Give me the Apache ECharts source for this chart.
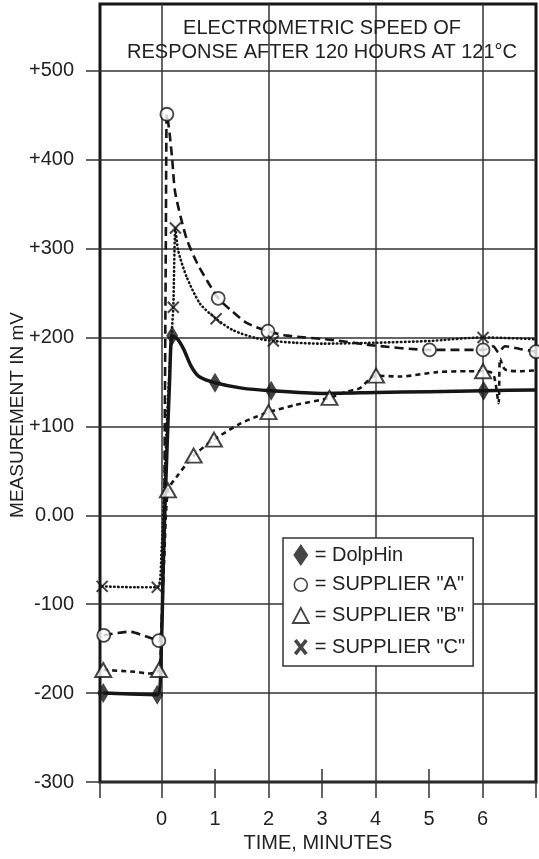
<!DOCTYPE html>
<html>
<head>
<meta charset="utf-8">
<script src="https://cdn.jsdelivr.net/npm/echarts@6/dist/echarts.min.js"></script>
<style>
  html, body { margin: 0; padding: 0; background: #fff; }
  #chart { width: 539px; height: 859px; }
</style>
</head>
<body>
<div id="chart"></div>
<script>
// ---- data (x: minutes, y: mV) ----
const seriesNames = ['DolpHin', 'SUPPLIER "A"', 'SUPPLIER "B"', 'SUPPLIER "C"'];
const titleLines = ['ELECTROMETRIC SPEED OF', 'RESPONSE AFTER 120 HOURS AT 121°C'];
const xTickLabels = [0, 1, 2, 3, 4, 5, 6];
const yTickValues = [-300, -200, -100, 0, 100, 200, 300, 400, 500];

const dolphinLine = [[-1.09,-200],[-0.08,-202],[0.0,-140],[0.03,-60],[0.065,10],[0.1,70],[0.15,150],[0.2,202],
  [0.3,198],[0.42,186],[0.55,168],[0.7,156],[1.0,149],[1.5,143],[2.05,140],[3,137],[4,138],[5,139],[6.02,140],[7,141]];
const dolphinMarks = [[-1.09,-200],[-0.08,-202],[0.2,202],[1.0,149],[2.05,140],[6.02,140]];

const supplierALine = [[-1.08,-135],[-0.6,-131],[-0.3,-136],[-0.05,-141],[0.04,-50],[0.06,100],[0.08,300],[0.09,420],[0.1,451],
  [0.15,430],[0.2,400],[0.25,365],[0.36,335],[0.48,309],[0.67,283],[0.85,264],[1.06,244],[1.29,231],[1.6,216],[1.99,207],
  [2.35,202],[3.22,197],[3.97,191],[5.01,186],[5.4,186],[6.01,186],[6.2,190],[6.3,183],[6.42,190],[6.7,187],[7,184]];
const supplierAMarks = [[-1.08,-135],[-0.05,-141],[0.1,451],[1.06,244],[1.99,207],[5.01,186],[6.01,186],[7,184]];

const supplierBLine = [[-1.09,-174],[-0.5,-176],[-0.25,-178],[-0.05,-174],[0.0,-120],[0.05,-50],[0.12,28],[0.28,43],
  [0.6,67],[0.98,85],[1.47,103],[1.78,111],[2.0,116],[2.5,124],[3.14,132],[3.46,139],[3.71,143],[3.87,152],[4.01,157],
  [4.46,156],[5.15,161],[5.72,162],[6.01,162],[6.2,159],[6.3,126],[6.33,176],[6.42,164],[6.7,162],[7,163]];
const supplierBMarks = [[-1.09,-174],[-0.05,-174],[0.12,28],[0.6,67],[0.98,85],[2.0,116],[3.14,132],[4.01,157],[6.01,162]];

const supplierCLine = [[-1.11,-80],[-0.5,-81],[-0.08,-81],[0.0,-40],[0.05,30],[0.12,130],[0.19,205],[0.22,234],[0.26,323],
  [0.31,298],[0.47,268],[0.72,238],[1.02,221],[1.34,208],[1.78,199],[2.09,196],[2.5,194],[3,193],[4,194],[5,196],[6.01,200],[7,198]];
const supplierCMarks = [[-1.11,-80],[-0.08,-81],[0.22,234],[0.26,323],[1.02,221],[2.09,196],[6.01,200]];

// ---- chart ----
const FONT = '"Liberation Sans", Arial, Helvetica, sans-serif';
const INK = '#161616';
const chart = echarts.init(document.getElementById('chart'), null, { renderer: 'canvas' });

const xCommon = { type: 'value', min: -1.15, max: 7, gridIndex: 0, position: 'bottom', axisLine: { show: false, onZero: false } };

const option = {
  animation: false,
  backgroundColor: '#fff',
  textStyle: { fontFamily: FONT },
  grid: { left: 100, right: 3, top: 4, bottom: 77, show: true, borderColor: INK, borderWidth: 3,
          backgroundColor: 'transparent', containLabel: false, outerBoundsMode: 'none' },
  graphic: [{
    type: 'text', x: 322, y: 40, z: 10,
    style: { text: titleLines.join('\n'), align: 'center', verticalAlign: 'middle', fontSize: 20, lineHeight: 24, fontFamily: FONT, fill: '#222' }
  }],
  legend: {
    orient: 'vertical', left: 283, top: 538, selectedMode: false,
    backgroundColor: '#fff', borderColor: '#333', borderWidth: 1.5,
    padding: [6, 8, 6, 7], itemGap: 7, itemWidth: 18, itemHeight: 22,
    formatter: '= {name}',
    textStyle: { fontSize: 20, color: '#222', fontFamily: FONT },
    data: [
      { name: seriesNames[0], icon: 'path://M0,0 M18,22 M9,0 L16.5,11 L9,22 L1.5,11 Z', itemStyle: { color: INK, borderWidth: 0 } },
      { name: seriesNames[1], icon: 'path://M0,0 M18,22 M15.5,11 A6.5,6.5 0 1 1 2.5,11 A6.5,6.5 0 1 1 15.5,11 Z', itemStyle: { color: '#fff', borderColor: INK, borderWidth: 1.6 } },
      { name: seriesNames[2], icon: 'path://M0,0 M18,22 M9,3.5 L17,18.5 L1,18.5 Z', itemStyle: { color: '#fff', borderColor: INK, borderWidth: 1.8 } },
      { name: seriesNames[3], icon: 'path://M0,0 M18,22 M3.5,4 L14.5,18 M14.5,4 L3.5,18', itemStyle: { color: INK, borderColor: INK, borderWidth: 3.6 } }
    ]
  },
  xAxis: [
    Object.assign({}, xCommon, {
      name: 'TIME, MINUTES', nameLocation: 'middle', nameGap: 50,
      nameTextStyle: { fontSize: 20, color: '#222', fontFamily: FONT },
      axisTick: { show: true, inside: false, length: 16, customValues: [-1.15, 0, 1, 2, 3, 4, 5, 6, 7], lineStyle: { color: '#333', width: 1.5 } },
      axisLabel: { show: true, margin: 27, fontSize: 20, color: '#222', fontFamily: FONT, customValues: xTickLabels },
      splitLine: { show: false }
    }),
    Object.assign({}, xCommon, {
      axisTick: { show: false, customValues: [0, 2, 4, 6] },
      axisLabel: { show: false },
      splitLine: { show: true, lineStyle: { color: '#333', width: 1.5 } }
    }),
    Object.assign({}, xCommon, {
      axisTick: { show: true, inside: true, length: 13, customValues: [1, 3, 5], lineStyle: { color: '#333', width: 1.5 } },
      axisLabel: { show: false },
      splitLine: { show: false }
    })
  ],
  yAxis: {
    type: 'value', min: -300, max: 575, interval: 100,
    name: 'MEASUREMENT IN mV', nameLocation: 'middle', nameGap: 73, nameRotate: 90, nameMoveOverlap: false,
    nameTextStyle: { fontSize: 19, color: '#222', fontFamily: FONT, padding: [0, 44, 0, 0] },
    axisLine: { show: false, onZero: false },
    axisTick: { show: true, inside: false, length: 14, customValues: yTickValues, lineStyle: { color: '#333', width: 1.5 } },
    axisLabel: {
      margin: 26, fontSize: 20, color: '#222', fontFamily: FONT, customValues: yTickValues,
      formatter: v => v > 0 ? '+' + v : (v === 0 ? '0.00' : String(v))
    },
    splitLine: { show: true, lineStyle: { color: '#333', width: 1.5 } }
  },
  series: [
    { name: seriesNames[0], type: 'scatter', xAxisIndex: 0, z: 6, symbol: 'diamond', symbolSize: [12, 20],
      itemStyle: { color: INK }, data: dolphinMarks, silent: true },
    { name: seriesNames[1], type: 'scatter', xAxisIndex: 0, z: 6, symbol: 'circle', symbolSize: 13,
      itemStyle: { color: '#fff', borderColor: INK, borderWidth: 1.8 }, data: supplierAMarks, silent: true },
    { name: seriesNames[2], type: 'scatter', xAxisIndex: 0, z: 6, symbol: 'triangle', symbolSize: [16, 14],
      itemStyle: { color: '#fff', borderColor: INK, borderWidth: 2 }, data: supplierBMarks, silent: true },
    { name: seriesNames[3], type: 'scatter', xAxisIndex: 0, z: 6, symbol: 'path://M0,0 L11,11 M11,0 L0,11', symbolSize: 11,
      itemStyle: { color: INK, borderColor: INK, borderWidth: 2 }, data: supplierCMarks, silent: true },

    { name: seriesNames[0], type: 'line', xAxisIndex: 0, z: 4, symbol: 'none', smooth: 0.25, silent: true,
      lineStyle: { color: INK, width: 3.5 }, data: dolphinLine },
    { name: seriesNames[1], type: 'line', xAxisIndex: 0, z: 4, symbol: 'none', smooth: 0.25, silent: true,
      lineStyle: { color: INK, width: 2.6, type: [9, 5] }, data: supplierALine },
    { name: seriesNames[2], type: 'line', xAxisIndex: 0, z: 4, symbol: 'none', smooth: 0.25, silent: true,
      lineStyle: { color: INK, width: 2.6, type: [5, 4] }, data: supplierBLine },
    { name: seriesNames[3], type: 'line', xAxisIndex: 0, z: 4, symbol: 'none', smooth: 0.25, silent: true,
      lineStyle: { color: INK, width: 2.6, type: [0.5, 3.5], cap: 'round' }, data: supplierCLine }
  ]
};
chart.setOption(option);
</script>
</body>
</html>
